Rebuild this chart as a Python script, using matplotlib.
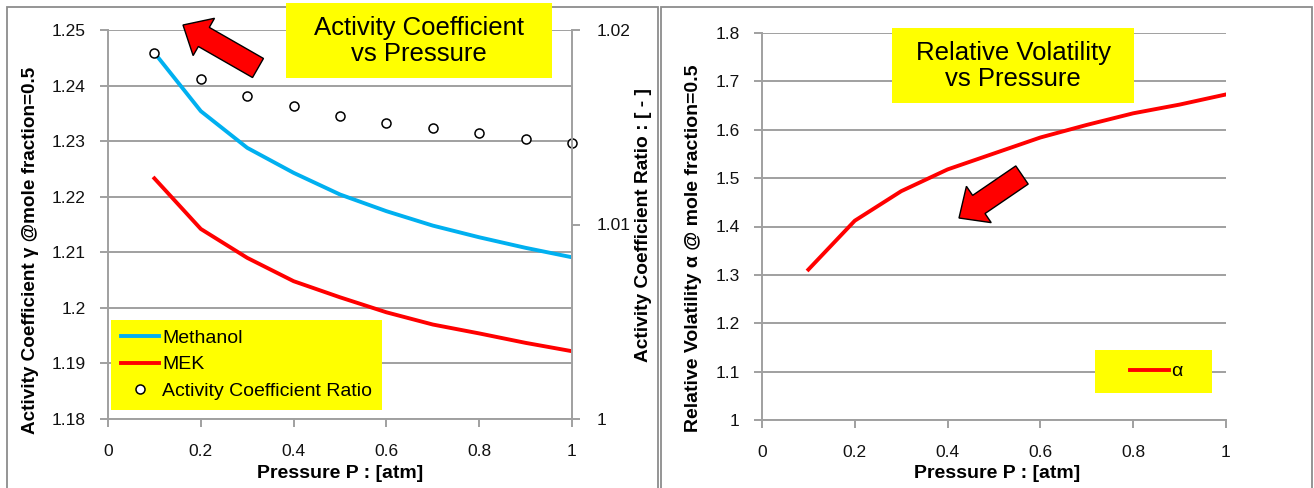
import numpy as np
import matplotlib
matplotlib.use('Agg')
import matplotlib.pyplot as plt
from matplotlib.patches import Rectangle, Polygon
from matplotlib.ticker import FuncFormatter

plt.rcParams['font.family'] = ['Liberation Sans', 'DejaVu Sans']

# data
pressure = [0.1, 0.2, 0.3, 0.4, 0.5, 0.6, 0.7, 0.8, 0.9, 1.0]
gamma_methanol = [1.2459, 1.2354, 1.2288, 1.2243, 1.2204, 1.2174, 1.2148, 1.2127, 1.2108, 1.2091]
gamma_mek = [1.2233, 1.2142, 1.2090, 1.2048, 1.2019, 1.1992, 1.1970, 1.1954, 1.1937, 1.1922]
gamma_ratio = [1.01883, 1.01746, 1.01662, 1.01607, 1.01559, 1.01524, 1.01497, 1.01470, 1.01442, 1.01421]
alpha = [1.311, 1.412, 1.473, 1.518, 1.551, 1.584, 1.610, 1.634, 1.652, 1.673]

x_ticks = [0, 0.2, 0.4, 0.6, 0.8, 1]
gamma_ticks = [1.18, 1.19, 1.2, 1.21, 1.22, 1.23, 1.24, 1.25]
ratio_ticks = [1, 1.01, 1.02]
alpha_ticks = [1, 1.1, 1.2, 1.3, 1.4, 1.5, 1.6, 1.7, 1.8]

W, H = 1314, 488
fig = plt.figure(figsize=(W / 100, H / 100), dpi=100)

def fx(x):
    return x / W

def fy(y):
    return 1 - y / H

def px_axes(x0, y0, x1, y1):
    return fig.add_axes([fx(x0), fy(y1), fx(x1) - fx(x0), fy(y0) - fy(y1)])

def box(x0, y0, x1, y1, **kw):
    fig.add_artist(Rectangle((fx(x0), fy(y1)), fx(x1) - fx(x0), fy(y0) - fy(y1),
                             transform=fig.transFigure, **kw))

def arrow(tail, tip, width, head_w, head_l):
    t = np.array(tail, float)
    p = np.array(tip, float)
    d = (p - t) / np.linalg.norm(p - t)
    n = np.array([-d[1], d[0]])
    b = p - d * head_l
    pts = [t + n * width / 2, b + n * width / 2, b + n * head_w / 2, p,
           b - n * head_w / 2, b - n * width / 2, t - n * width / 2]
    pts = [(fx(q[0]), fy(q[1])) for q in pts]
    fig.add_artist(Polygon(pts, closed=True, facecolor='#ff0000', edgecolor='black',
                           lw=1, transform=fig.transFigure))

fmt = FuncFormatter(lambda v, pos: '%g' % v)
gray = '#a0a0a0'

# panel frames
box(7, 7, 658, 500, fill=False, edgecolor='#8c8c8c', lw=1.3)
box(661, 7, 1312, 500, fill=False, edgecolor='#8c8c8c', lw=1.3)


def style(ax):
    ax.set_xlim(0, 1)
    ax.set_xticks(x_ticks)
    ax.xaxis.set_major_formatter(fmt)
    ax.yaxis.set_major_formatter(fmt)
    ax.yaxis.grid(True, color=gray, lw=1.4)
    ax.set_axisbelow(True)
    for s in ['top', 'right']:
        ax.spines[s].set_visible(False)
    for s in ['left', 'bottom']:
        ax.spines[s].set_color(gray)
        ax.spines[s].set_linewidth(1.4)
    ax.tick_params(axis='x', direction='out', length=6, width=1.4, color=gray,
                   labelsize=12.5, pad=12, labelcolor='#111111')
    ax.tick_params(axis='y', direction='out', length=6, width=1.4, color=gray,
                   labelsize=12.5, pad=10, labelcolor='#111111')


# ---- left chart: activity coefficients
ax1 = px_axes(108, 30, 572, 419)
style(ax1)
ax1.set_ylim(1.18, 1.25)
ax1.set_yticks(gamma_ticks)
l1, = ax1.plot(pressure, gamma_methanol, color='#00b0f0', lw=2.8, label='Methanol')
l2, = ax1.plot(pressure, gamma_mek, color='#ff0000', lw=2.8, label='MEK')

ax2 = ax1.twinx()
ax2.set_ylim(1, 1.02)
ax2.set_yticks(ratio_ticks)
ax2.yaxis.set_major_formatter(fmt)
for s in ['top', 'left', 'bottom']:
    ax2.spines[s].set_visible(False)
ax2.spines['right'].set_color(gray)
ax2.spines['right'].set_linewidth(1.4)
ax2.tick_params(axis='y', direction='out', length=6, width=1.4, color=gray,
                labelsize=12.5, pad=12, labelcolor='#111111')
l3, = ax2.plot(pressure, gamma_ratio, 'o', ms=6.5, mfc='white', mec='black', mew=1.1,
               label='Activity Coefficient Ratio', clip_on=False)

leg = ax2.legend(handles=[l1, l2, l3], loc='upper left', bbox_to_anchor=(0.006, 0.255),
                 borderaxespad=0, facecolor='#ffff00', edgecolor='none', framealpha=1,
                 fancybox=False, fontsize=14, handlelength=2.0, handletextpad=0.15,
                 labelspacing=0.45, borderpad=0.5)

fig.text(fx(340), fy(473), 'Pressure P : [atm]', ha='center', va='center',
         fontsize=14, fontweight='bold')
fig.text(fx(31), fy(250), 'Activity Coefficient \u03b3 @mole fraction=0.5', rotation=90,
         ha='center', va='center', fontsize=13.6, fontweight='bold')
fig.text(fx(644), fy(225), 'Activity Coefficient Ratio : [ - ]', rotation=90,
         ha='center', va='center', fontsize=13.8, fontweight='bold')

box(286, 3, 552, 78, facecolor='#ffff00', edgecolor='none')
fig.text(fx(419), fy(41), 'Activity Coefficient\nvs Pressure', ha='center', va='center',
         fontsize=18.5, linespacing=1.15)
arrow((258, 68), (183, 25), 22, 43, 24)

# ---- right chart: relative volatility
ax3 = px_axes(762, 33, 1226, 420)
style(ax3)
ax3.set_ylim(1, 1.8)
ax3.set_yticks(alpha_ticks)
l4, = ax3.plot(pressure, alpha, color='#ff0000', lw=2.8, label='\u03b1')
ax3.add_patch(Rectangle((0.718, 0.07), 0.252, 0.111, transform=ax3.transAxes,
                        facecolor='#ffff00', edgecolor='none', zorder=4))
ax3.legend(handles=[l4], loc='center', bbox_to_anchor=(0.85, 0.125), frameon=False,
           fontsize=14, handlelength=2.0, handletextpad=0.15).set_zorder(5)

fig.text(fx(997), fy(473), 'Pressure P : [atm]', ha='center', va='center',
         fontsize=14, fontweight='bold')
fig.text(fx(693), fy(248), 'Relative Volatility \u03b1 @ mole fraction=0.5', rotation=90,
         ha='center', va='center', fontsize=14, fontweight='bold')

box(892, 28, 1134, 103, facecolor='#ffff00', edgecolor='none')
fig.text(fx(1013), fy(66), 'Relative Volatility\nvs Pressure', ha='center', va='center',
         fontsize=18.5, linespacing=1.15)
arrow((1022, 175), (959, 218), 22, 44, 24)

fig.savefig('out.png', dpi=100)
